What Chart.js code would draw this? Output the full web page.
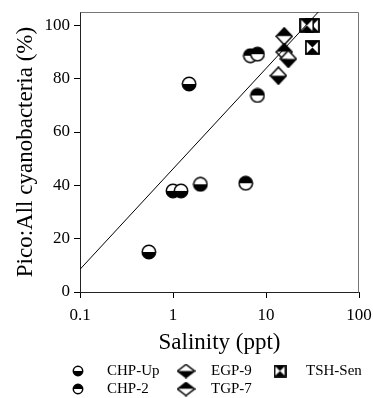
<!DOCTYPE html>
<html>
<head>
<meta charset="utf-8">
<script src="https://cdn.jsdelivr.net/npm/chart.js@4.4.0/dist/chart.umd.min.js"></script>
<style>
  html, body { margin: 0; padding: 0; background: #fff; }
  #wrap { width: 373px; height: 398px; }
</style>
</head>
<body>
<div id="wrap"><canvas id="chart" width="373" height="398"></canvas></div>
<script>
// values: salinity (ppt) vs pico share (%)
const seriesNames = ["CHP-Up", "CHP-2", "EGP-9", "TGP-7", "TSH-Sen"];
const chpUpX = [0.55, 1.0, 1.22, 1.97, 1.49];
const chpUpY = [15.0, 37.9, 37.9, 40.4, 78.0];
const chp2X = [6.05, 6.8, 8.1, 8.1];
const chp2Y = [40.8, 88.6, 89.2, 73.7];
const egp9X = [13.6, 17.4];
const egp9Y = [81.1, 87.4];
const tgp7X = [15.7, 15.7];
const tgp7Y = [95.9, 90.0];
const tshX = [31.5, 27.5, 31.5];
const tshY = [100, 100, 91.7];
// fitted line, end points
const fitX = [0.1, 36.5];
const fitY = [8.5, 105];
const xTicks = [0.1, 1, 10, 100];
const yTicks = [0, 20, 40, 60, 80, 100];

Chart.defaults.font.family = "'Liberation Serif', 'Times New Roman', serif";
Chart.defaults.color = "#000";

function toPoints(xs, ys) {
  return xs.map((x, i) => ({ x: x, y: ys[i] }));
}

// marker drawing - half filled circle / diamond, hourglass square
function halfCircle(topCol, botCol, d) {
  const c = document.createElement("canvas");
  c.width = d + 2; c.height = d + 2;
  const ctx = c.getContext("2d");
  const m = (d + 2) / 2, r = d / 2 - 0.3;
  ctx.fillStyle = topCol;
  ctx.beginPath(); ctx.arc(m, m, r, Math.PI, 2 * Math.PI); ctx.closePath(); ctx.fill();
  ctx.fillStyle = botCol;
  ctx.beginPath(); ctx.arc(m, m, r, 0, Math.PI); ctx.closePath(); ctx.fill();
  ctx.lineWidth = 1.5; ctx.strokeStyle = "#000";
  ctx.beginPath(); ctx.arc(m, m, r, 0, 2 * Math.PI); ctx.stroke();
  return c;
}

function halfDiamond(topCol, botCol, w, h) {
  const c = document.createElement("canvas");
  c.width = w + 2; c.height = h + 2;
  const ctx = c.getContext("2d");
  const cx = (w + 2) / 2, cy = (h + 2) / 2;
  ctx.fillStyle = topCol;
  ctx.beginPath(); ctx.moveTo(1, cy); ctx.lineTo(cx, 1); ctx.lineTo(w + 1, cy); ctx.closePath(); ctx.fill();
  ctx.fillStyle = botCol;
  ctx.beginPath(); ctx.moveTo(1, cy); ctx.lineTo(cx, h + 1); ctx.lineTo(w + 1, cy); ctx.closePath(); ctx.fill();
  ctx.lineWidth = 1.5; ctx.strokeStyle = "#000";
  ctx.beginPath(); ctx.moveTo(1, cy); ctx.lineTo(cx, 1); ctx.lineTo(w + 1, cy); ctx.lineTo(cx, h + 1); ctx.closePath(); ctx.stroke();
  return c;
}

function hourglass(s) {
  const c = document.createElement("canvas");
  c.width = s + 2; c.height = s + 2;
  const ctx = c.getContext("2d");
  ctx.fillStyle = "#fff";
  ctx.fillRect(1, 1, s, s);
  ctx.fillStyle = "#000";
  ctx.beginPath(); ctx.moveTo(1, 1); ctx.lineTo(s + 1, 1); ctx.lineTo(s / 2 + 1, s / 2 + 1); ctx.closePath(); ctx.fill();
  ctx.beginPath(); ctx.moveTo(1, s + 1); ctx.lineTo(s + 1, s + 1); ctx.lineTo(s / 2 + 1, s / 2 + 1); ctx.closePath(); ctx.fill();
  ctx.lineWidth = 1.8; ctx.strokeStyle = "#000";
  ctx.strokeRect(1, 1, s, s);
  return c;
}

const markers = [
  halfCircle("#fff", "#000", 14),
  halfCircle("#000", "#fff", 14),
  halfDiamond("#fff", "#000", 16, 17),
  halfDiamond("#000", "#fff", 16, 17),
  hourglass(13)
];
const legendMarkers = [
  halfCircle("#fff", "#000", 10),
  halfCircle("#000", "#fff", 10),
  halfDiamond("#fff", "#000", 17, 13),
  halfDiamond("#000", "#fff", 17, 13),
  hourglass(11)
];

// legend layout: [symbol x, text x, row y]
const legendPos = [
  [78, 107, 371], [78, 107, 389],
  [186, 211, 371], [186, 211, 389],
  [280, 306, 371]
];

const framePlugin = {
  id: "frame",
  beforeDatasetsDraw(chart) {
    const a = chart.chartArea, ctx = chart.ctx;
    ctx.save();
    ctx.strokeStyle = "#777";
    ctx.lineWidth = 1;
    ctx.beginPath();
    ctx.moveTo(Math.round(a.left) + 0.5, Math.round(a.top) + 0.5);
    ctx.lineTo(Math.round(a.right) - 0.5, Math.round(a.top) + 0.5);
    ctx.lineTo(Math.round(a.right) - 0.5, Math.round(a.bottom) + 0.5);
    ctx.stroke();
    ctx.restore();
  }
};

const legendPlugin = {
  id: "sideLegend",
  afterDraw(chart) {
    const ctx = chart.ctx;
    ctx.save();
    ctx.font = "15px 'Liberation Serif', 'Times New Roman', serif";
    ctx.fillStyle = "#000";
    ctx.textBaseline = "middle";
    ctx.textAlign = "left";
    seriesNames.forEach((name, i) => {
      const p = legendPos[i];
      const img = legendMarkers[i];
      ctx.drawImage(img, p[0] - img.width / 2, p[2] - img.height / 2);
      ctx.fillText(name, p[1], p[2]);
    });
    ctx.restore();
  }
};

const sets = [
  [chpUpX, chpUpY], [chp2X, chp2Y], [egp9X, egp9Y], [tgp7X, tgp7Y], [tshX, tshY]
];

const datasets = [{
  type: "line",
  label: "fit",
  data: toPoints(fitX, fitY),
  borderColor: "#000",
  borderWidth: 1,
  pointRadius: 0,
  fill: false
}];
sets.forEach((s, i) => {
  datasets.push({
    type: "scatter",
    label: seriesNames[i],
    data: toPoints(s[0], s[1]),
    pointStyle: markers[i],
    pointRadius: 7
  });
});

new Chart(document.getElementById("chart"), {
  data: { datasets: datasets },
  options: {
    responsive: false,
    animation: false,
    events: [],
    layout: { padding: { left: 12, right: 14, top: 12, bottom: 41 } },
    plugins: { legend: { display: false }, tooltip: { enabled: false } },
    scales: {
      x: {
        type: "logarithmic",
        min: 0.1,
        max: 100,
        afterBuildTicks: (scale) => { scale.ticks = xTicks.map(v => ({ value: v })); },
        afterFit: (scale) => {
          scale.height = 65;
          scale.paddingLeft = 0;
          scale.paddingRight = 0;
        },
        ticks: {
          autoSkip: false,
          maxRotation: 0,
          padding: 7,
          font: { size: 17 },
          callback: (v) => String(v)
        },
        grid: { drawOnChartArea: false, drawTicks: true, tickLength: 6, color: "#000" },
        border: { display: true, color: "#222", width: 1 },
        title: { display: true, text: "Salinity (ppt)", font: { size: 23 }, padding: { top: 0, bottom: 0 } }
      },
      y: {
        type: "linear",
        min: 0,
        max: 105,
        afterBuildTicks: (scale) => { scale.ticks = yTicks.map(v => ({ value: v })); },
        afterFit: (scale) => {
          scale.width = 68;
          scale.paddingTop = 0;
          scale.paddingBottom = 0;
        },
        ticks: { padding: 4, font: { size: 17 } },
        grid: { drawOnChartArea: false, drawTicks: true, tickLength: 6, color: "#000" },
        border: { display: true, color: "#222", width: 1 },
        title: { display: true, text: "Pico:All cyanobacteria (%)", font: { size: 23 }, padding: { top: 0, bottom: 0 } }
      }
    }
  },
  plugins: [framePlugin, legendPlugin]
});
</script>
</body>
</html>
